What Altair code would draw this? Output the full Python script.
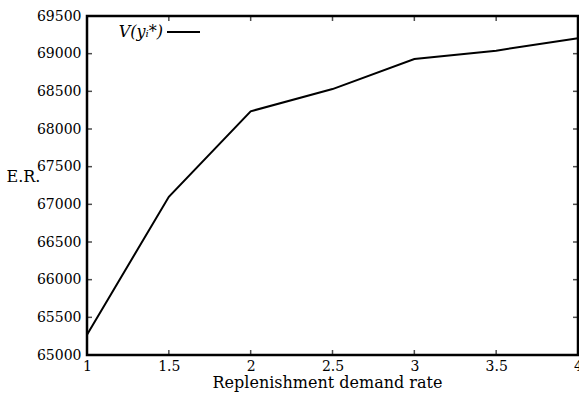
import altair as alt
import pandas as pd

rates = [1.0, 1.5, 2.0, 2.5, 3.0, 3.5, 4.0]
values = [65270, 67100, 68235, 68530, 68930, 69040, 69205]

x_ticks = [1.0, 1.5, 2.0, 2.5, 3.0, 3.5, 4.0]
y_ticks = [65000, 65500, 66000, 66500, 67000, 67500, 68000, 68500, 69000, 69500]

df = pd.DataFrame({"x": rates, "y": values})
FONT = "DejaVu Serif"

xs = alt.Scale(domain=[1, 4], nice=False, zero=False)
ys = alt.Scale(domain=[65000, 69500], nice=False, zero=False)

x_axis = alt.Axis(values=x_ticks, format="~g", title="Replenishment demand rate",
                  titleX=240, titleY=27, titleBaseline="middle", titleAlign="center",
                  labelPadding=4, labelFlush=False, labelOverlap=False)
y_axis = alt.Axis(values=y_ticks, format="d", title="E.R.", titleAngle=0,
                  titleX=-64, titleY=160, titleAlign="center", titleBaseline="middle",
                  labelPadding=6, labelFlush=False, labelOverlap=False,
                  tickCount=len(y_ticks))

def X():
    return alt.X("x:Q", scale=xs, axis=x_axis)

def Y():
    return alt.Y("y:Q", scale=ys, axis=y_axis)

line = alt.Chart(df).mark_line(color="black", strokeWidth=2).encode(x=X(), y=Y())

left_df = pd.DataFrame({"x": [1.0] * len(y_ticks), "y": y_ticks})
right_df = pd.DataFrame({"x": [4.0] * len(y_ticks), "y": y_ticks})
bottom_df = pd.DataFrame({"x": x_ticks, "y": [65000] * len(x_ticks)})
top_df = pd.DataFrame({"x": x_ticks, "y": [69500] * len(x_ticks)})

def tk(d, orient, xo=0, yo=0):
    return alt.Chart(d).mark_tick(orient=orient, size=5, thickness=1.5,
                                  color="black", xOffset=xo, yOffset=yo).encode(
        x=X(), y=Y())

ticks = [tk(left_df, "horizontal", xo=2.5), tk(right_df, "horizontal", xo=-2.5),
         tk(bottom_df, "vertical", yo=-2.5), tk(top_df, "vertical", yo=2.5)]

legend_text = alt.Chart(pd.DataFrame({"t": ["V(yᵢ*)"]})).mark_text(
    font=FONT, fontSize=16, fontStyle="italic", align="right", baseline="middle",
    color="black").encode(text="t:N", x=alt.value(76), y=alt.value(16))
legend_line = alt.Chart(pd.DataFrame({"a": [0]})).mark_rule(
    color="black", strokeWidth=2).encode(
    x=alt.value(80), x2=alt.value(113), y=alt.value(16))

chart = alt.layer(line, *ticks, legend_text, legend_line).properties(
    width=491, height=339,
    autosize=alt.AutoSizeParams(type="none"),
    padding={"left": 87, "top": 16, "right": 1, "bottom": 38},
).configure_view(stroke="black", strokeWidth=2.5).configure_axis(
    labelFont=FONT, labelFontSize=14, labelColor="black",
    titleFont=FONT, titleFontSize=16, titleFontWeight="normal", titleColor="black",
    domain=False, ticks=False, grid=False,
)

chart.save("out.html", embed_options={"renderer": "svg", "actions": False})
